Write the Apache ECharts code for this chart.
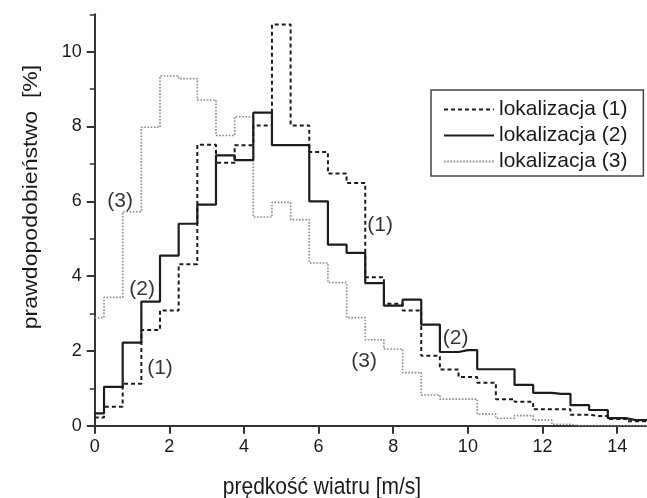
<!DOCTYPE html>
<html>
<head>
<meta charset="utf-8">
<script src="https://cdn.jsdelivr.net/npm/echarts@6/dist/echarts.min.js"></script>
<style>
  html, body { margin: 0; padding: 0; background: #fff; }
  #chart { width: 647px; height: 498px; }
</style>
</head>
<body>
<div id="chart"></div>
<script>
// bin centres, m/s
const speeds = [0, 0.5, 1, 1.5, 2, 2.5, 3, 3.5, 4, 4.5, 5, 5.5, 6, 6.5, 7, 7.5,
  8, 8.5, 9, 9.5, 10, 10.5, 11, 11.5, 12, 12.5, 13, 13.5, 14, 14.5, 15];

// probability [%] for each location
const loc1 = [0.22, 0.51, 1.12, 2.56, 3.08, 4.32, 7.51, 7.03, 7.50, 8.03, 10.73, 8.03,
  7.32, 6.74, 6.49, 3.97, 3.26, 3.08, 1.87, 1.50, 1.30, 1.15, 0.71, 0.64, 0.44, 0.44,
  0.29, 0.26, 0.18, 0.12, 0.10];
const loc2 = [0.33, 1.04, 2.22, 3.32, 4.55, 5.40, 5.91, 7.23, 7.10, 8.37, 7.50, 7.50,
  6.00, 4.84, 4.62, 3.81, 3.21, 3.37, 2.70, 1.97, 2.02, 1.51, 1.51, 1.09, 0.88, 0.85,
  0.55, 0.42, 0.20, 0.15, 0.15];
const loc3 = [2.89, 3.43, 5.72, 7.98, 9.35, 9.28, 8.71, 7.76, 8.26, 5.58, 5.97, 5.51,
  4.35, 3.83, 2.89, 2.30, 2.05, 1.42, 0.82, 0.71, 0.71, 0.31, 0.20, 0.27, 0.15, 0.04,
  0, 0, 0, 0, 0];

const seriesNames = ['lokalizacja (1)', 'lokalizacja (2)', 'lokalizacja (3)'];

const xTicks = [0, 2, 4, 6, 8, 10, 12, 14];
const yTicks = [0, 2, 4, 6, 8, 10];
const yMinorTicks = [1, 3, 5, 7, 9, 11];

// curve labels placed in data coordinates
const noteText = ['(3)', '(2)', '(1)', '(1)', '(3)', '(2)'];
const noteX = [0.68, 1.27, 1.75, 7.65, 7.22, 9.67];
const noteY = [6.01, 3.65, 1.55, 5.37, 1.73, 2.35];

const FONT = '"Liberation Sans", Arial, sans-serif';
const INK = '#1a1a1a';

const pairs = vals => speeds.map((s, i) => [s, vals[i]]);

const chart = echarts.init(document.getElementById('chart'), null, { renderer: 'canvas' });

const option = {
  animation: false,
  backgroundColor: '#fff',
  textStyle: { fontFamily: FONT, color: INK },
  grid: {
    left: 94.7,
    right: 0,
    top: 14.3,
    bottom: 72.3,
    containLabel: false,
    outerBoundsMode: 'none'
  },
  legend: {
    data: seriesNames,
    orient: 'vertical',
    left: 431,
    top: 90,
    padding: [9, 16, 4, 12],
    itemGap: 5,
    itemWidth: 50,
    itemHeight: 20,
    borderColor: '#444',
    borderWidth: 1.5,
    backgroundColor: '#fff',
    // hide the marker the line legend icon always draws
    itemStyle: { opacity: 0, color: 'transparent', borderWidth: 0 },
    textStyle: { fontSize: 21, color: INK, fontFamily: FONT }
  },
  xAxis: {
    type: 'value',
    min: 0,
    max: 14.8,
    interval: 2,
    axisLine: { show: true, onZero: false, lineStyle: { color: '#333', width: 2 } },
    axisTick: { show: true, length: 8, customValues: xTicks, lineStyle: { color: '#333', width: 2 } },
    axisLabel: { fontSize: 18, margin: 12, color: INK, customValues: xTicks },
    splitLine: { show: false }
  },
  yAxis: [
    {
      type: 'value',
      min: 0,
      max: 11,
      interval: 1,
      axisLine: { show: true, lineStyle: { color: '#333', width: 2 } },
      axisTick: { show: true, length: 8, customValues: yTicks, lineStyle: { color: '#333', width: 2 } },
      axisLabel: { fontSize: 18, margin: 13, color: INK, customValues: yTicks },
      splitLine: { show: false }
    },
    {
      // odd minor ticks only
      type: 'value',
      min: 0,
      max: 11,
      interval: 1,
      position: 'left',
      axisLine: { show: false },
      axisTick: { show: true, length: 5, customValues: yMinorTicks, lineStyle: { color: '#333', width: 1.5 } },
      axisLabel: { show: false },
      splitLine: { show: false }
    }
  ],
  series: [
    {
      name: seriesNames[2],
      type: 'line',
      step: 'middle',
      symbol: 'none',
      data: pairs(loc3),
      itemStyle: { color: '#8a8a8a' },
      lineStyle: { color: '#8a8a8a', width: 1.6, type: [1.6, 1.6] },
      z: 2
    },
    {
      name: seriesNames[0],
      type: 'line',
      step: 'middle',
      symbol: 'none',
      data: pairs(loc1),
      itemStyle: { color: '#1c1c1c' },
      lineStyle: { color: '#1c1c1c', width: 2, type: [4, 3] },
      z: 3
    },
    {
      name: seriesNames[1],
      type: 'line',
      step: 'middle',
      symbol: 'none',
      data: pairs(loc2),
      itemStyle: { color: '#1c1c1c' },
      lineStyle: { color: '#1c1c1c', width: 2.2 },
      z: 4
    },
    {
      name: 'notes',
      type: 'scatter',
      silent: true,
      symbolSize: 0,
      itemStyle: { color: INK },
      data: noteText.map((t, i) => [noteX[i], noteY[i], t]),
      label: {
        show: true,
        position: 'inside',
        formatter: p => p.value[2],
        fontSize: 21,
        color: '#000',
        fontFamily: FONT
      },
      z: 5
    }
  ],
  graphic: [
    {
      type: 'text',
      x: 322,
      y: 487,
      scaleY: 1.15,
      style: {
        text: 'prędkość wiatru [m/s]',
        font: '21px ' + FONT,
        fill: INK,
        align: 'center',
        verticalAlign: 'middle'
      }
    },
    {
      type: 'text',
      x: 31,
      y: 197,
      rotation: Math.PI / 2,
      scaleX: 1.1,
      style: {
        text: 'prawdopodobieństwo  [%]',
        font: '21px ' + FONT,
        fill: INK,
        align: 'center',
        verticalAlign: 'middle'
      }
    }
  ]
};

chart.setOption(option);
</script>
</body>
</html>
